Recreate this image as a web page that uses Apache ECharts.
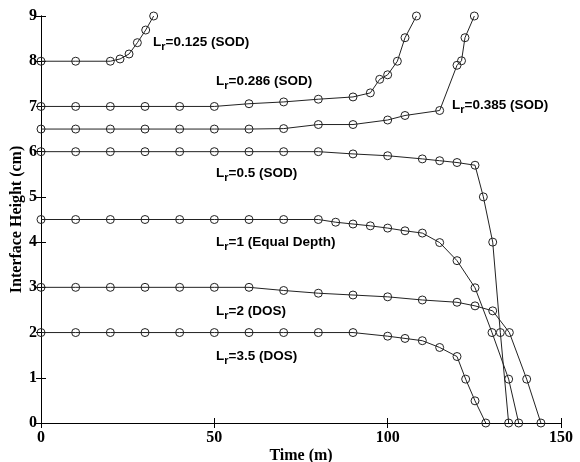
<!DOCTYPE html>
<html>
<head>
<meta charset="utf-8">
<script src="https://cdn.jsdelivr.net/npm/echarts@6/dist/echarts.min.js"></script>
<style>
  html, body { margin: 0; padding: 0; background: #fff; }
  #main { width: 580px; height: 462px; }
</style>
</head>
<body>
<div id="main"></div>
<script>
// time (m), interface height (cm)
const lr0125 = [[0, 8], [10, 8], [20, 8], [22.8, 8.05], [25.4, 8.16], [27.8, 8.41], [30.2, 8.69], [32.5, 9]]
const lr0286 = [[0, 7], [10, 7], [20, 7], [30, 7], [40, 7], [50, 7], [60, 7.06], [70, 7.1], [80, 7.16], [90, 7.21],
  [95, 7.3], [97.7, 7.6], [100, 7.7], [102.8, 8.0], [105, 8.52], [108.3, 9]]
const lr0385 = [[0, 6.5], [10, 6.5], [20, 6.5], [30, 6.5], [40, 6.5], [50, 6.5], [60, 6.5], [70, 6.51], [80, 6.6],
  [90, 6.6], [100, 6.7], [105, 6.8], [115, 6.91], [120, 7.91], [121.3, 8.01], [122.3, 8.52], [125, 9]]
const lr05 = [[0, 6], [10, 6], [20, 6], [30, 6], [40, 6], [50, 6], [60, 6], [70, 6], [80, 6], [90, 5.95],
  [100, 5.91], [110, 5.84], [115, 5.8], [120, 5.76], [125.2, 5.7], [127.6, 5], [130.3, 4], [132.5, 2], [134.9, 0]]
const lr1 = [[0, 4.5], [10, 4.5], [20, 4.5], [30, 4.5], [40, 4.5], [50, 4.5], [60, 4.5], [70, 4.5], [80, 4.5],
  [85, 4.44], [90, 4.4], [95, 4.36], [100, 4.31], [105, 4.25], [110, 4.2], [115, 3.99], [120, 3.59],
  [125.2, 2.99], [130.1, 2], [134.9, 0.97], [137.8, 0]]
const lr2 = [[0, 3], [10, 3], [20, 3], [30, 3], [40, 3], [50, 3], [60, 3], [70, 2.93], [80, 2.87], [90, 2.83],
  [100, 2.79], [110, 2.72], [120, 2.67], [125.2, 2.59], [130.3, 2.48], [135.1, 2], [140.1, 0.97], [144.2, 0]]
const lr35 = [[0, 2], [10, 2], [20, 2], [30, 2], [40, 2], [50, 2], [60, 2], [70, 2], [80, 2], [90, 2],
  [100, 1.92], [105, 1.87], [110, 1.82], [115, 1.67], [120, 1.47], [122.5, 0.97], [125.2, 0.49], [128.3, 0]]

// curve labels: [text after subscript, x px, y px]
const labels = [
  ['=0.125 (SOD)', 153, 35],
  ['=0.286 (SOD)', 216, 74],
  ['=0.385 (SOD)', 452, 98],
  ['=0.5 (SOD)', 216, 166],
  ['=1 (Equal Depth)', 216, 235],
  ['=2 (DOS)', 216, 304],
  ['=3.5 (DOS)', 216, 349]
]

const serif = '"Liberation Serif", "Times New Roman", serif'
const sans = '"Liberation Sans", Arial, sans-serif'

let myChart = echarts.init(document.getElementById('main'))

const makeSeries = (d) => ({
  type: 'line',
  data: d,
  symbol: 'circle',
  symbolSize: 8,
  showAllSymbol: true,
  lineStyle: {color: '#222', width: 1},
  itemStyle: {color: 'rgba(255,255,255,0)', borderColor: '#222', borderWidth: 1},
  emphasis: {disabled: true},
  z: 3
})

const boxAxis = {
  axisLine: {show: true, lineStyle: {color: '#000', width: 1}},
  axisTick: {show: true, inside: true, length: 5, lineStyle: {color: '#000'}},
  axisLabel: {show: false},
  splitLine: {show: false}
}

let option = {
  animation: false,
  backgroundColor: '#fff',
  grid: {left: 41, right: 19, top: 16, bottom: 39, outerBoundsMode: 'none', containLabel: false},
  xAxis: [
    {
      type: 'value', min: 0, max: 150, interval: 50,
      name: 'Time (m)', nameLocation: 'middle', nameGap: 25, nameMoveOverlap: false,
      nameTextStyle: {fontFamily: serif, fontWeight: 'bold', fontSize: 16, color: '#000'},
      axisLine: {onZero: false, lineStyle: {color: '#000', width: 1}},
      axisTick: {inside: true, length: 5, lineStyle: {color: '#000'}},
      axisLabel: {fontFamily: serif, fontWeight: 'bold', fontSize: 16, color: '#000', margin: 7},
      splitLine: {show: false}
    },
    Object.assign({type: 'value', min: 0, max: 150, interval: 50, position: 'top'}, boxAxis)
  ],
  yAxis: [
    {
      type: 'value', min: 0, max: 9, interval: 1,
      name: 'Interface Height (cm)', nameLocation: 'middle', nameGap: 16, nameMoveOverlap: false,
      nameTextStyle: {fontFamily: serif, fontWeight: 'bold', fontSize: 16, color: '#000'},
      axisLine: {onZero: false, lineStyle: {color: '#000', width: 1}},
      axisTick: {inside: true, length: 5, lineStyle: {color: '#000'}},
      axisLabel: {fontFamily: serif, fontWeight: 'bold', fontSize: 16, color: '#000', margin: 4},
      splitLine: {show: false}
    },
    Object.assign({type: 'value', min: 0, max: 9, interval: 1, position: 'right'}, boxAxis)
  ],
  series: [lr0125, lr0286, lr0385, lr05, lr1, lr2, lr35].map(makeSeries),
  graphic: labels.map(l => ({
    type: 'text',
    left: l[1],
    top: l[2],
    z: 10,
    style: {
      text: '{a|L}{s|r}{a|' + l[0] + '}',
      rich: {
        a: {fontFamily: sans, fontWeight: 'bold', fontSize: 13.5, color: '#000', lineHeight: 15, verticalAlign: 'top'},
        s: {fontFamily: sans, fontWeight: 'bold', fontSize: 11, color: '#000', lineHeight: 15, verticalAlign: 'top', padding: [6, 0, 0, 0]}
      }
    }
  }))
}

myChart.setOption(option)
</script>
</body>
</html>
